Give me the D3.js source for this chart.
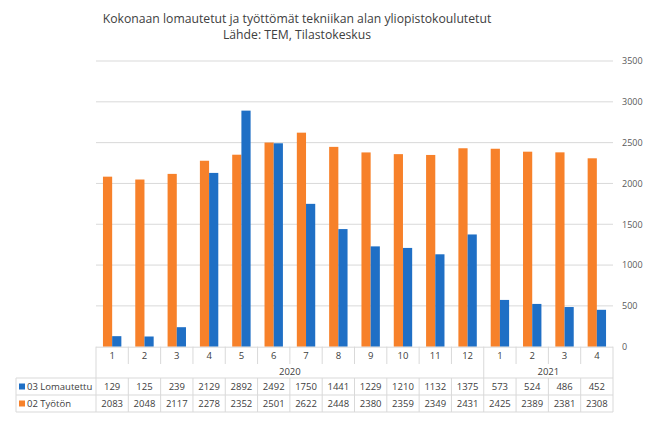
<!DOCTYPE html>
<html>
<head>
<meta charset="utf-8">
<script src="https://cdn.jsdelivr.net/npm/d3@7"></script>
<style>
  html, body { margin: 0; padding: 0; background: #fff; }
  svg { display: block; }
  text { font-family: "Open Sans", "Noto Sans", sans-serif; }
</style>
</head>
<body>
<svg id="chart" width="670" height="425"></svg>
<script>
// ---- Data ----
const months = ["1","2","3","4","5","6","7","8","9","10","11","12","1","2","3","4"];
const years = [
  { label: "2020", count: 12 },
  { label: "2021", count: 4 }
];
const lomautettu = [129,125,239,2129,2892,2492,1750,1441,1229,1210,1132,1375,573,524,486,452];
const tyoton = [2083,2048,2117,2278,2352,2501,2622,2448,2380,2359,2349,2431,2425,2389,2381,2308];
const seriesNames = ["03 Lomautettu", "02 Työtön"];
const yTicks = [0,500,1000,1500,2000,2500,3000,3500];
const titleLines = ["Kokonaan lomautetut ja työttömät tekniikan alan yliopistokoulutetut", "Lähde: TEM, Tilastokeskus"];

const colors = { "03 Lomautettu": "#1f6fc5", "02 Työtön": "#f7812a" };
const seriesData = { "03 Lomautettu": lomautettu, "02 Työtön": tyoton };

const svg = d3.select("#chart");

const plotLeft = 96, plotRight = 613, plotTop = 61, plotBottom = 346.7;
const tableLeft = 16;
const rowMonthBottom = 364, rowYearBottom = 378, row1Bottom = 395, row2Bottom = 412;

const x = d3.scaleBand().domain(d3.range(months.length)).range([plotLeft, plotRight]).padding(0);
const bw = x.bandwidth();
const barOrder = ["02 Työtön", "03 Lomautettu"];
const x1 = d3.scaleBand().domain(barOrder).range([bw/2 - 9.2, bw/2 + 9.2]).padding(0);
const y = d3.scaleLinear().domain([0, 3500]).range([plotBottom, plotTop]);

// gridlines
svg.append("g").selectAll("line").data(yTicks.filter(d => d > 0)).join("line")
  .attr("x1", plotLeft).attr("x2", plotRight)
  .attr("y1", d => y(d)).attr("y2", d => y(d))
  .attr("stroke", "#d9d9d9").attr("stroke-width", 1);

// y axis labels (right side)
const yAxis = d3.axisRight(y).tickValues(yTicks).tickFormat(d3.format("d")).tickSize(0).tickPadding(0);
const yg = svg.append("g").attr("transform", `translate(622,0)`).call(yAxis);
yg.select(".domain").remove();
yg.selectAll("text").attr("fill", "#595959").style("font-size", "9px").attr("x", 0);

// bars
const groups = svg.append("g").selectAll("g").data(months.map((m, i) => i)).join("g")
  .attr("transform", i => `translate(${x(i)},0)`);
groups.selectAll("rect").data(i => barOrder.map(s => ({ s, v: seriesData[s][i] }))).join("rect")
  .attr("x", d => x1(d.s))
  .attr("width", x1.bandwidth())
  .attr("y", d => y(d.v))
  .attr("height", d => y(0) - y(d.v))
  .attr("fill", d => colors[d.s]);

// data table
const tg = svg.append("g");
const lineColor = "#d9d9d9";
const ln = (x1_, y1_, x2_, y2_) => tg.append("line").attr("x1", x1_).attr("y1", y1_).attr("x2", x2_).attr("y2", y2_)
  .attr("stroke", lineColor).attr("stroke-width", 1);

// horizontal lines
ln(plotLeft, plotBottom + 0.5, plotRight, plotBottom + 0.5);
ln(tableLeft, rowYearBottom, plotRight, rowYearBottom);
ln(tableLeft, row1Bottom, plotRight, row1Bottom);
ln(tableLeft, row2Bottom, plotRight, row2Bottom);

// vertical lines for month row and data rows
const bounds = d3.range(months.length + 1).map(i => i < months.length ? x(i) : plotRight);
bounds.forEach(bx => {
  ln(bx, plotBottom, bx, rowMonthBottom);
  ln(bx, rowYearBottom, bx, row2Bottom);
});
// year row boundaries
let acc = 0;
const yearBounds = [x(0)];
years.forEach(yr => { acc += yr.count; yearBounds.push(acc < months.length ? x(acc) : plotRight); });
yearBounds.forEach(bx => ln(bx, rowMonthBottom, bx, rowYearBottom));
ln(tableLeft, rowYearBottom, tableLeft, row2Bottom);

const txtColor = "#404040";
// month labels
tg.append("g").selectAll("text").data(months).join("text")
  .attr("x", (d, i) => x(i) + bw/2).attr("y", (plotBottom + rowMonthBottom)/2 + 3.5)
  .attr("text-anchor", "middle").attr("fill", txtColor).style("font-size", "9.5px").text(d => d);
// year labels
acc = 0;
years.forEach(yr => {
  const a = x(acc);
  const b = acc + yr.count < months.length ? x(acc + yr.count) : plotRight;
  tg.append("text").attr("x", (a + b)/2).attr("y", (rowMonthBottom + rowYearBottom)/2 + 3.5)
    .attr("text-anchor", "middle").attr("fill", txtColor).style("font-size", "9.5px").text(yr.label);
  acc += yr.count;
});
// data rows
const rowDefs = [
  { name: seriesNames[0], top: rowYearBottom, bottom: row1Bottom },
  { name: seriesNames[1], top: row1Bottom, bottom: row2Bottom }
];
rowDefs.forEach(r => {
  const cy = (r.top + r.bottom)/2;
  tg.append("rect").attr("x", tableLeft + 3).attr("y", cy - 3).attr("width", 6).attr("height", 6).attr("fill", colors[r.name]);
  tg.append("text").attr("x", tableLeft + 11).attr("y", cy + 3.5).attr("fill", txtColor)
    .style("font-size", "9.5px").text(r.name);
  tg.append("g").selectAll("text").data(seriesData[r.name]).join("text")
    .attr("x", (d, i) => x(i) + bw/2).attr("y", cy + 3.5)
    .attr("text-anchor", "middle").attr("fill", txtColor).style("font-size", "9.5px").text(d => d);
});

// title
const tcx = 297;
const t1 = svg.append("text").attr("x", tcx).attr("y", 23).attr("text-anchor", "middle")
  .attr("fill", "#404040").style("font-size", "13px").text(titleLines[0]);
const t2 = svg.append("text").attr("x", tcx).attr("y", 39).attr("text-anchor", "middle")
  .attr("fill", "#404040").style("font-size", "13px").text(titleLines[1]);
// fit the first line to the reference width
const w1 = t1.node().getComputedTextLength();
const fs = 13 * 389 / w1;
t1.style("font-size", fs + "px");
t2.style("font-size", fs + "px");
</script>
</body>
</html>
